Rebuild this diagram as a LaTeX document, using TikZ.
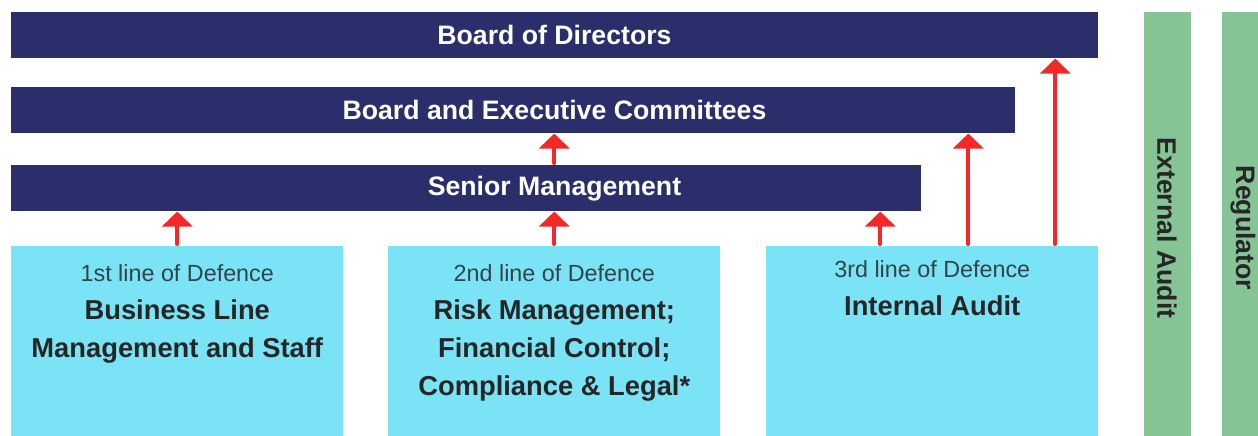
\documentclass[tikz,border=0pt]{standalone}
\usepackage{fontspec}
\setmainfont{Liberation Sans}
\usetikzlibrary{arrows.meta, calc}

\definecolor{boardblue}{HTML}{2A2E6A}
\definecolor{lodcyan}{HTML}{7AE3F5}
\definecolor{extgreen}{HTML}{86C495}
\definecolor{arrowred}{HTML}{F52828}
\definecolor{lodgray}{HTML}{33434A}

\begin{document}
\begin{tikzpicture}[x=0.75pt, y=-0.75pt,
  bar/.style={fill=boardblue, draw=none, inner sep=0pt, anchor=north west, minimum height=34.5pt},
  bartext/.style={text=white, inner sep=0pt, font=\bfseries\fontsize{20}{24}\selectfont},
  lodbox/.style={fill=lodcyan, draw=none, inner sep=0pt, anchor=north west, minimum width=249pt, minimum height=145pt},
  lodtext/.style={inner sep=0pt, anchor=north, align=center, text=black!85, font=\bfseries\fontsize{20.5}{28.5}\selectfont},
  extbar/.style={fill=extgreen, draw=none, inner sep=0pt, anchor=north west, minimum width=35.25pt, minimum height=320pt},
  exttext/.style={rotate=-90, inner sep=0pt, text=black!85, font=\bfseries\fontsize{20}{24}\selectfont},
  uparrow/.style={arrowred, line width=3pt, line cap=round, -{Triangle[length=11.25pt, width=22.5pt]}}]

  \useasboundingbox (0,0) rectangle (1258,436);

  % board levels
  \node[bar, minimum width=815.25pt] (bod) at (11,12) {};
  \node[bar, minimum width=753pt] (bec) at (11,87) {};
  \node[bar, minimum width=682.5pt] (sm) at (11,165) {};
  \node[bartext] (bodtxt) at (554.5,35) {Board of Directors};
  \node[bartext] (bectxt) at (554.5,110) {Board and Executive Committees};
  \node[bartext] (smtxt) at (554.5,189) {Senior Management};

  % three lines of defence
  \node[lodbox] (lod1) at (11,246) {};
  \node[lodbox] (lod2) at (388,246) {};
  \node[lodbox] (lod3) at (766,246) {};
  \node[lodtext] (lod1txt) at ($(lod1.north)+(0,18)$)
    {{\mdseries\color{lodgray}\fontsize{17.5}{28.5}\selectfont 1st line of Defence}\\Business Line\\Management and Staff};
  \node[lodtext] (lod2txt) at ($(lod2.north)+(0,18)$)
    {{\mdseries\color{lodgray}\fontsize{17.5}{28.5}\selectfont 2nd line of Defence}\\Risk Management;\\Financial Control;\\Compliance \& Legal*};
  \node[lodtext] (lod3txt) at ($(lod3.north)+(0,14)$)
    {{\mdseries\color{lodgray}\fontsize{17.5}{26.5}\selectfont 3rd line of Defence}\\Internal Audit};

  % outside parties
  \node[extbar] (ext) at (1144,12) {};
  \node[extbar] (reg) at (1222,12) {};
  \node[exttext] (exttxt) at (1167,228) {External Audit};
  \node[exttext] (regtxt) at (1243,228) {Regulator};

  % reporting lines
  \coordinate (r31) at ($(lod3.north)+(-52,0)$);
  \coordinate (r32) at ($(lod3.north)+(36,0)$);
  \coordinate (r33) at ($(lod3.north)+(123,0)$);
  \draw[uparrow, shorten <=1.5pt] (lod1.north) -- (lod1.north |- sm.south);
  \draw[uparrow, shorten <=1.5pt] (lod2.north) -- (lod2.north |- sm.south);
  \draw[uparrow, shorten <=1.5pt] (lod2.north |- sm.north) -- (lod2.north |- bec.south);
  \draw[uparrow, shorten <=1.5pt] (r31) -- (r31 |- sm.south);
  \draw[uparrow, shorten <=1.5pt] (r32) -- (r32 |- bec.south);
  \draw[uparrow, shorten <=1.5pt] (r33) -- (r33 |- bod.south);
\end{tikzpicture}
\end{document}
